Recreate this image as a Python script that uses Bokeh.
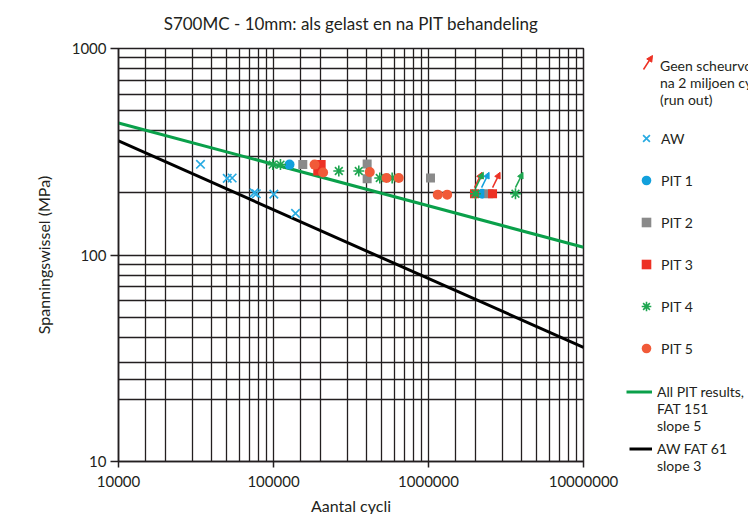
from bokeh.plotting import figure
from bokeh.layouts import row, column
from bokeh.models import (ColumnDataSource, FixedTicker, CustomJSTickFormatter,
                          Legend, LegendItem, Arrow, NormalHead)
from bokeh.embed import file_html
from bokeh.resources import INLINE

# ---------------- data ----------------
title_text = "S700MC - 10mm: als gelast en na PIT behandeling"
x_label = "Aantal cycli"
y_label = "Spanningswissel (MPa)"

x_ticks = [10000, 100000, 1000000, 10000000]
x_minor = [15000, 20000, 30000, 40000, 50000, 60000, 70000, 80000, 90000,
           150000, 200000, 300000, 400000, 500000, 600000, 700000, 800000, 900000,
           1500000, 2000000, 3000000, 4000000, 5000000, 6000000, 7000000, 8000000, 9000000]
y_ticks = [10, 100, 1000]
y_minor = [20, 25, 30, 40, 50, 60, 70, 80, 90,
           200, 300, 400, 500, 600, 700, 800, 900]

aw_n = [33800, 50300, 54100, 75000, 77500, 100500, 138700]
aw_s = [275, 235, 236, 200, 198, 197, 159]

pit1_n = [126900, 2220000]
pit1_s = [274, 198]

pit2_n = [154500, 402000, 402000, 1030000, 2450000]
pit2_s = [274, 276, 234, 236, 198]

pit3_n = [193000, 203000, 1980000, 2590000]
pit3_s = [255, 274, 198, 198]

pit4_n = [98900, 110900, 263900, 355000, 485000, 583000, 2010000, 3640000]
pit4_s = [274, 274, 255, 255, 236, 236, 198, 198]

pit5_n = [184000, 209000, 418000, 536000, 643000, 1148000, 1320000]
pit5_s = [274, 251, 252, 236, 236, 196, 196]

# run-outs (no crack after 2 million cycles)
runout_n = [1980000, 2020000, 2200000, 2590000, 3640000]
runout_s = [198, 198, 198, 198, 198]
runout_series = ["PIT 3", "PIT 4", "PIT 1", "PIT 3", "PIT 4"]

# design curves (end points)
pit_line_n = [10000, 10000000]
pit_line_s = [436, 109]
aw_line_n = [10000, 10000000]
aw_line_s = [357, 35.7]

legend_runout = "Geen scheurvorming\nna 2 miljoen cycli\n(run out)"
legend_pit_line = ["All PIT results,", "FAT 151", "slope 5"]
legend_aw_line = ["AW FAT 61", "slope 3"]

# ---------------- style ----------------
FONT = "Lato"
TXT = "#231f20"
C_AW = "#29abe2"
C_P1 = "#12a0dc"
C_P2 = "#8a8a8a"
C_P3 = "#ed3124"
C_P4 = "#1ea650"
C_P5 = "#f15a38"
C_GL = "#0aa04a"
series_color = {"PIT 1": C_P1, "PIT 3": C_P3, "PIT 4": C_P4}

AW_STYLE = dict(marker="x", size=12, line_color=C_AW, line_width=1.7)
P1_STYLE = dict(marker="circle", size=10, fill_color=C_P1, line_color=None)
P2_STYLE = dict(marker="square", size=9, fill_color=C_P2, line_color=None)
P3_STYLE = dict(marker="square", size=9, fill_color=C_P3, line_color=None)
P4_STYLE = dict(marker="asterisk", size=11, line_color=C_P4, line_width=1.6)
P5_STYLE = dict(marker="circle", size=10, fill_color=C_P5, line_color=None)
PL_STYLE = dict(line_color=C_GL, line_width=3)
AL_STYLE = dict(line_color="black", line_width=3)

p = figure(frame_width=465, frame_height=413,
           x_axis_type="log", y_axis_type="log",
           x_range=(1e4, 1e7), y_range=(10, 1000),
           output_backend="svg", toolbar_location=None,
           min_border_left=118, min_border_right=42,
           min_border_top=48, min_border_bottom=53)

p.title.text = title_text
p.title.align = "center"
p.title.vertical_align = "top"
p.title.text_font = FONT
p.title.text_font_size = "17px"
p.title.text_font_style = "normal"
p.title.text_color = TXT
p.title.standoff = 25

p.xaxis.ticker = FixedTicker(ticks=x_ticks, minor_ticks=x_minor)
p.yaxis.ticker = FixedTicker(ticks=y_ticks, minor_ticks=y_minor)
fmt = CustomJSTickFormatter(code="return tick.toFixed(0)")
p.xaxis.formatter = fmt
p.yaxis.formatter = fmt

for ax in (p.xaxis, p.yaxis):
    ax.axis_line_color = TXT
    ax.axis_line_width = 1.5
    ax.major_tick_line_color = TXT
    ax.major_tick_line_width = 1.5
    ax.major_tick_in = 0
    ax.minor_tick_line_color = None
    ax.major_label_text_font = FONT
    ax.major_label_text_font_size = "15px"
    ax.major_label_text_color = TXT
    ax.axis_label_text_font = FONT
    ax.axis_label_text_font_size = "16px"
    ax.axis_label_text_font_style = "normal"
    ax.axis_label_text_color = TXT

p.xaxis.axis_label = x_label
p.yaxis.axis_label = y_label
p.xaxis.major_tick_out = 6
p.yaxis.major_tick_out = 8
p.xaxis.major_label_standoff = 8
p.xaxis.axis_label_standoff = 6
p.yaxis.major_label_standoff = 4
p.yaxis.axis_label_standoff = 16

for g in (p.xgrid, p.ygrid):
    g.grid_line_color = TXT
    g.grid_line_width = 1.3
    g.minor_grid_line_color = TXT
    g.minor_grid_line_width = 1.3

p.outline_line_color = TXT
p.outline_line_width = 1.5

# design curves
p.line(pit_line_n, pit_line_s, **PL_STYLE)
p.line(aw_line_n, aw_line_s, **AL_STYLE)

# run-out arrows
DY0, DX1, DY1 = 1.07, 1.118, 1.27
for name, col in series_color.items():
    xs = [n for n, s in zip(runout_n, runout_series) if s == name]
    ys = [v for v, s in zip(runout_s, runout_series) if s == name]
    src = ColumnDataSource(dict(x0=xs, y0=[v * DY0 for v in ys],
                                x1=[n * DX1 for n in xs], y1=[v * DY1 for v in ys]))
    p.add_layout(Arrow(source=src, x_start="x0", y_start="y0", x_end="x1", y_end="y1",
                       line_color=col, line_width=1.5,
                       end=NormalHead(size=6, line_color=col, fill_color=col, line_width=1)))

# data points
p.scatter(aw_n, aw_s, **AW_STYLE)
p.scatter(pit1_n, pit1_s, **P1_STYLE)
p.scatter(pit2_n, pit2_s, **P2_STYLE)
p.scatter(pit3_n, pit3_s, **P3_STYLE)
p.scatter(pit4_n, pit4_s, **P4_STYLE)
p.scatter(pit5_n, pit5_s, **P5_STYLE)

# ---------------- legend panel (separate figure, same series, out of its view) ----------------
LG_W, LG_H = 123, 514
lg = figure(width=LG_W, height=LG_H, output_backend="svg", toolbar_location=None,
            x_range=(0, LG_W), y_range=(0, LG_H),
            x_axis_location=None, y_axis_location=None, min_border=0)
lg.outline_line_color = None
lg.grid.visible = False

l_aw = lg.scatter(aw_n, aw_s, **AW_STYLE)
l_p1 = lg.scatter(pit1_n, pit1_s, **P1_STYLE)
l_p2 = lg.scatter(pit2_n, pit2_s, **P2_STYLE)
l_p3 = lg.scatter(pit3_n, pit3_s, **P3_STYLE)
l_p4 = lg.scatter(pit4_n, pit4_s, **P4_STYLE)
l_p5 = lg.scatter(pit5_n, pit5_s, **P5_STYLE)
l_pl = lg.line(pit_line_n, pit_line_s, **PL_STYLE)
l_al = lg.line(aw_line_n, aw_line_s, **AL_STYLE)

def make_legend(items, loc, gw, gh, spacing, standoff, lh=16):
    leg = Legend(items=items, location=loc, orientation="vertical",
                 glyph_width=gw, glyph_height=gh, spacing=spacing, label_standoff=standoff,
                 padding=0, margin=0, border_line_color=None, background_fill_alpha=0,
                 label_text_font=FONT, label_text_font_size="14px", label_text_color=TXT,
                 label_text_line_height=1.2, label_height=lh)
    lg.add_layout(leg)
    return leg

make_legend([LegendItem(label=legend_runout, renderers=[])], (9, 406), 22, 16, 0, 4)
make_legend([LegendItem(label="AW", renderers=[l_aw]),
             LegendItem(label="PIT 1", renderers=[l_p1]),
             LegendItem(label="PIT 2", renderers=[l_p2]),
             LegendItem(label="PIT 3", renderers=[l_p3]),
             LegendItem(label="PIT 4", renderers=[l_p4]),
             LegendItem(label="PIT 5", renderers=[l_p5])], (9, 154), 24, 24, 18, 3)
make_legend([LegendItem(label=t, renderers=([l_pl] if i == 0 else []))
             for i, t in enumerate(legend_pit_line)], (1, 80), 26, 17, 0, 5, lh=17)
make_legend([LegendItem(label=t, renderers=([l_al] if i == 0 else []))
             for i, t in enumerate(legend_aw_line)], (4, 40), 23, 17, 0, 5, lh=17)

# legend symbol for run-out
lg.add_layout(Arrow(x_start=18, y_start=445, x_end=27, y_end=459,
                    line_color=C_P3, line_width=1.5,
                    end=NormalHead(size=6, line_color=C_P3, fill_color=C_P3, line_width=1)))

layout = row(p, column(lg))
open("out.html", "w").write(file_html(layout, INLINE))
